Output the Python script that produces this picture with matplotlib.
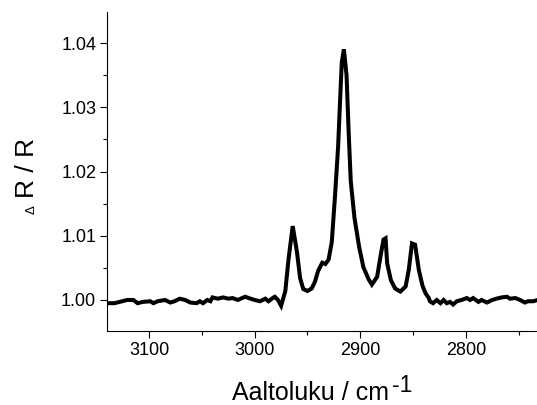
import matplotlib
matplotlib.use("Agg")
import matplotlib.pyplot as plt
from matplotlib.ticker import MultipleLocator

plt.rcParams['font.family'] = ['Liberation Sans', 'DejaVu Sans']

wavenumber = [3140, 3133, 3128, 3121, 3115, 3111, 3106, 3099, 3096, 3092,
              3085, 3080, 3076, 3071, 3066, 3061, 3055, 3052, 3049, 3045,
              3042, 3040, 3035, 3030, 3025, 3021, 3016, 3012, 3009, 3004,
              3000, 2995, 2990, 2987, 2983, 2981, 2978, 2975, 2971, 2968,
              2964, 2960, 2957, 2954, 2950, 2946, 2943, 2940, 2936, 2933,
              2930, 2927, 2924, 2921, 2919, 2917.5, 2915.5, 2913, 2911, 2909,
              2905.5, 2901, 2897, 2892, 2889, 2884, 2881, 2878, 2876, 2874.5,
              2871, 2867, 2862, 2857, 2854, 2851, 2848, 2844.5, 2841, 2838,
              2835, 2834, 2831, 2827.5, 2824, 2821, 2818, 2815, 2812, 2808.5,
              2804, 2799, 2796, 2793, 2788, 2785, 2780, 2775, 2771, 2766,
              2761, 2758, 2753, 2748.5, 2744, 2741, 2736, 2732]
reflectance = [0.9995, 0.9995, 0.9997, 1.0000, 1.0000, 0.9995, 0.9997, 0.9998, 0.9995, 0.9998,
               1.0000, 0.9996, 0.9998, 1.0002, 1.0000, 0.9996, 0.9995, 0.9998, 0.9995, 1.0000,
               0.9998, 1.0004, 1.0002, 1.0004, 1.0002, 1.0003, 1.0000, 1.0003, 1.0005, 1.0002,
               1.0000, 0.9998, 1.0002, 0.9998, 1.0003, 1.0005, 1.0000, 0.9991, 1.0014, 1.0063,
               1.0115, 1.0075, 1.0034, 1.0017, 1.0014, 1.0018, 1.0028, 1.0045, 1.0058, 1.0056,
               1.0063, 1.0090, 1.0160, 1.0238, 1.0315, 1.0370, 1.0390, 1.0350, 1.0262, 1.0185,
               1.0128, 1.0082, 1.0051, 1.0032, 1.0024, 1.0036, 1.0066, 1.0094, 1.0096, 1.0057,
               1.0031, 1.0018, 1.0013, 1.0021, 1.0047, 1.0088, 1.0086, 1.0047, 1.0022, 1.0010,
               1.0003, 0.9998, 0.9995, 1.0000, 0.9995, 1.0000, 0.9995, 0.9997, 0.9993, 0.9998,
               1.0000, 1.0003, 1.0000, 1.0003, 0.9997, 1.0000, 0.9996, 1.0000, 1.0002, 1.0004,
               1.0005, 1.0002, 1.0003, 1.0000, 0.9996, 0.9998, 0.9998, 1.0000]

x_ticks = [3100, 3000, 2900, 2800]
y_ticks = [1.00, 1.01, 1.02, 1.03, 1.04]

W, H = 537, 405
fig = plt.figure(figsize=(W / 100, H / 100), dpi=100)
ax = fig.add_axes([107 / W, 1 - 331 / H, 1 - 107 / W, (331 - 12) / H])
ax.plot(wavenumber, reflectance, color='black', lw=2.9, solid_joinstyle='miter')

ax.set_xlim(3140, 2732.5)
ax.set_ylim(0.99517, 1.04483)
ax.set_xticks(x_ticks)
ax.set_yticks(y_ticks)
ax.set_xticklabels([str(t) for t in x_ticks])
ax.set_yticklabels([f"{t:.2f}" for t in y_ticks])
ax.xaxis.set_minor_locator(MultipleLocator(50))
ax.yaxis.set_minor_locator(MultipleLocator(0.005))
for s in ['top', 'right']:
    ax.spines[s].set_visible(False)
for s in ['left', 'bottom']:
    ax.spines[s].set_linewidth(0.8)
ax.tick_params(which='major', direction='out', length=4.8, width=0.8,
               labelsize=13, colors='black')
ax.tick_params(axis='x', which='major', pad=3.4)
ax.tick_params(axis='y', which='major', pad=3.0)
ax.tick_params(which='minor', direction='out', length=2.6, width=0.8)

# x axis label with full-size raised exponent, placed after measuring
t1 = fig.text(0, 1 - 400.5 / H, 'Aaltoluku / cm', ha='left', va='baseline', fontsize=18)
t2 = fig.text(0, 1 - 392.0 / H, '-1', ha='left', va='baseline', fontsize=16.5)
fig.canvas.draw()
r = fig.canvas.get_renderer()
w1 = t1.get_window_extent(r).width
w2 = t2.get_window_extent(r).width
gap = 3.0
total = w1 + gap + w2
x0 = 322 - total / 2
t1.set_x(x0 / W)
t2.set_x((x0 + w1 + gap) / W)

# y axis label with small delta
fig.text(34.3 / W, 1 - 168.3 / H, 'R / R', rotation=90, rotation_mode='anchor',
         ha='center', va='baseline', fontsize=19)
fig.text(34.3 / W, 1 - 210 / H, '\u0394', rotation=90, rotation_mode='anchor',
         ha='center', va='baseline', fontsize=9.5)

fig.savefig('out.png', dpi=100)
